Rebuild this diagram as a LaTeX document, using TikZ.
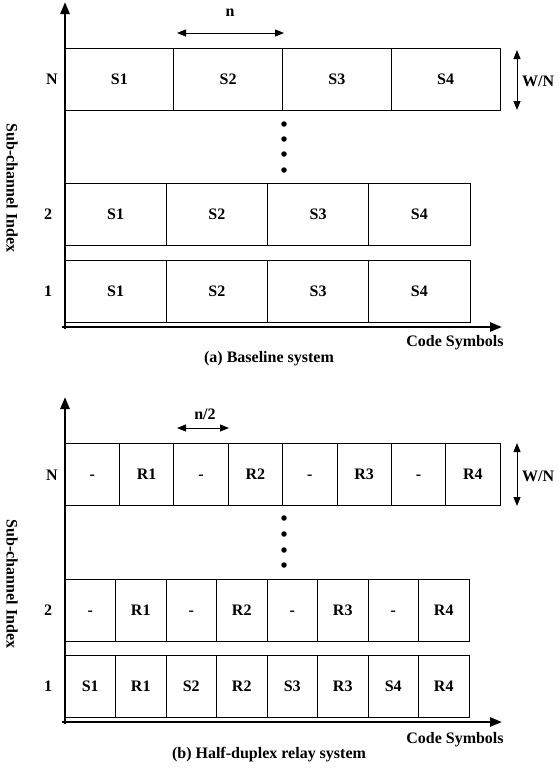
\documentclass[tikz,border=0pt]{standalone}
\usepackage{fontspec}
\setmainfont{Liberation Serif}
\usetikzlibrary{arrows.meta}
\begin{document}
\begin{tikzpicture}[x=1pt,y=-1pt,
  font=\bfseries\fontsize{16}{18}\selectfont,
  cell/.style={draw, line width=0.7pt, inner sep=0pt, outer sep=0pt, anchor=north west, minimum height=62pt, text height=11pt, text depth=0pt},
  axisline/.style={line width=2.5pt, -{Triangle[length=12pt,width=9pt]}},
  dimline/.style={line width=1pt, {Triangle[length=9pt,width=7pt]}-{Triangle[length=9pt,width=7pt]}},
  dotmark/.style={circle, fill=black, inner sep=0pt, minimum size=5.5pt},
  lbl/.style={inner sep=0pt}]
\useasboundingbox (0,0) rectangle (558,769);

% ---------- (a) Baseline system ----------
\foreach \i/\t in {1/S1,2/S2,3/S3,4/S4}{
  \node[cell, minimum width=108.75pt] (aN\i) at ({65+(\i-1)*108.75},48) {\t};
  \node[cell, minimum width=101.25pt] (a2\i) at ({65+(\i-1)*101.25},183) {\t};
  \node[cell, minimum width=101.25pt] (a1\i) at ({65+(\i-1)*101.25},260) {\t};
}
\coordinate (ao) at (62,327);
\coordinate (ayb) at (65,329);
\coordinate (ayt) at (65,2);
\coordinate (axe) at (502,327);
\draw[axisline] (ayb) -- (ayt);
\draw[axisline] (ao) -- (axe);
\foreach \k/\y in {1/124,2/139,3/154,4/170}{ \node[dotmark] (ad\k) at (284,\y) {}; }
\coordinate (anl) at (177,33);
\coordinate (anr) at (284,33);
\draw[dimline] (anl) -- (anr);
\node[lbl] (an) at (230,13) {n};
\coordinate (awt) at (517,50);
\coordinate (awb) at (517,110);
\draw[dimline] (awt) -- (awb);
\node[lbl, anchor=west] (aw) at (522,81) {W/N};
\node[lbl] (arN) at (52,79) {N};
\node[lbl] (ar2) at (48,214) {2};
\node[lbl] (ar1) at (48,291) {1};
\node[lbl, rotate=-90] (ayl) at (12,188) {Sub-channel Index};
\node[lbl] (axl) at (455,343) {Code Symbols};
\node[lbl] (acap) at (269,359) {(a) Baseline system};

% ---------- (b) Half-duplex relay system ----------
\foreach \i/\t in {1/-,2/R1,3/-,4/R2,5/-,6/R3,7/-,8/R4}{
  \node[cell, minimum width=54.375pt] (bN\i) at ({65+(\i-1)*54.375},443) {\t};
  \node[cell, minimum width=50.5pt] (b2\i) at ({65+(\i-1)*50.5},579) {\t};
}
\foreach \i/\t in {1/S1,2/R1,3/S2,4/R2,5/S3,6/R3,7/S4,8/R4}{
  \node[cell, minimum width=50.5pt] (b1\i) at ({65+(\i-1)*50.5},655) {\t};
}
\coordinate (bo) at (62,722);
\coordinate (byb) at (65,724);
\coordinate (byt) at (65,397);
\coordinate (bxe) at (502,722);
\draw[axisline] (byb) -- (byt);
\draw[axisline] (bo) -- (bxe);
\foreach \k/\y in {1/518,2/534,3/550,4/565}{ \node[dotmark] (bd\k) at (284,\y) {}; }
\coordinate (bnl) at (177,428);
\coordinate (bnr) at (229,428);
\draw[dimline] (bnl) -- (bnr);
\node[lbl] (bn) at (205,414) {n/2};
\coordinate (bwt) at (517,443);
\coordinate (bwb) at (517,506);
\draw[dimline] (bwt) -- (bwb);
\node[lbl, anchor=west] (bw) at (522,476) {W/N};
\node[lbl] (brN) at (52,475) {N};
\node[lbl] (br2) at (48,610) {2};
\node[lbl] (br1) at (48,686) {1};
\node[lbl, rotate=-90] (byl) at (12,584) {Sub-channel Index};
\node[lbl] (bxl) at (455,740) {Code Symbols};
\node[lbl] (bcap) at (269,755) {(b) Half-duplex relay system};
\end{tikzpicture}
\end{document}
